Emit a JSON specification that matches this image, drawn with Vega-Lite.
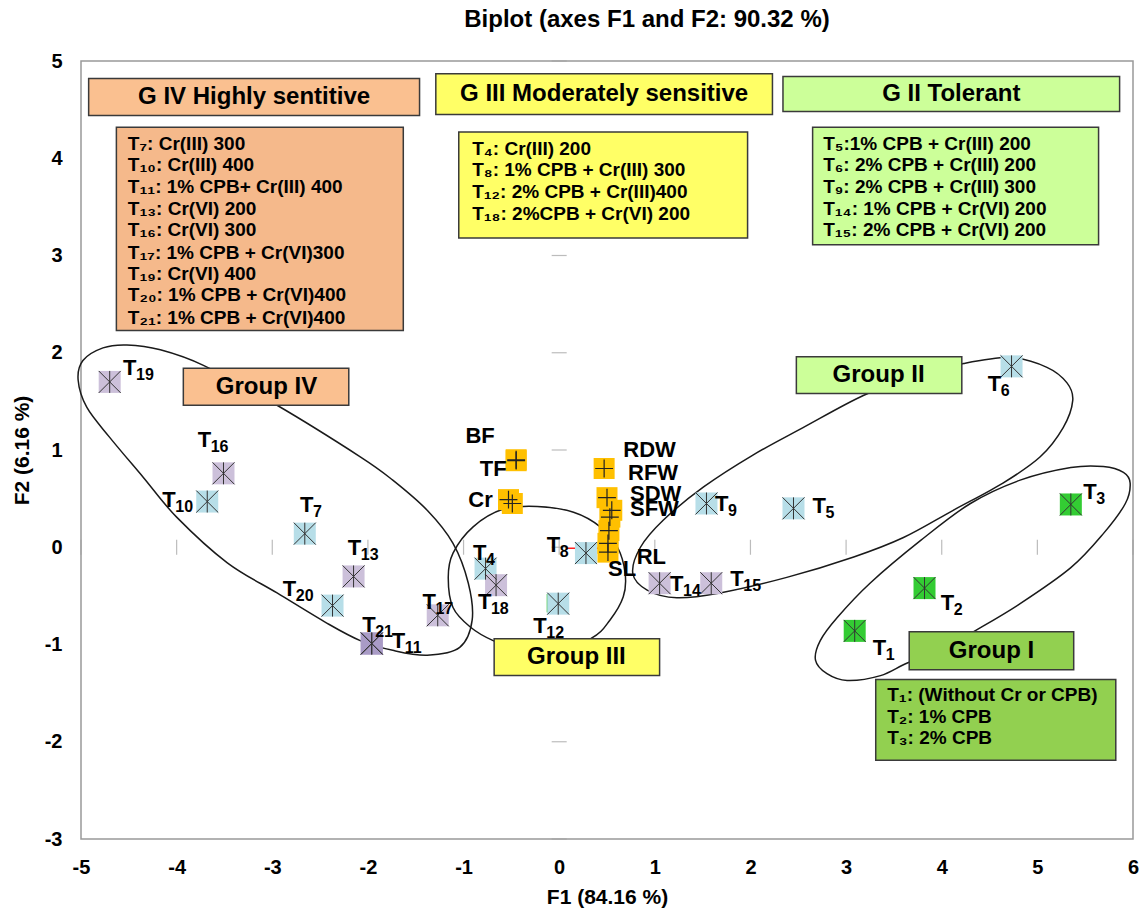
{
  "$schema": "https://vega.github.io/schema/vega-lite/v6.json",
  "width": 1052,
  "height": 778,
  "autosize": {"type": "none"},
  "padding": {"left": 81, "top": 61, "right": 8, "bottom": 74},
  "background": "white",
  "title": {"text": "Biplot (axes F1 and F2: 90.32 %)", "font": "Liberation Sans", "fontSize": 24, "fontWeight": "bold", "color": "black", "anchor": "middle", "dx": 40, "offset": 19},
  "config": {
    "view": {"stroke": "#999999", "strokeWidth": 1.5},
    "text": {"font": "Liberation Sans", "fontWeight": "bold", "color": "black"}
  },
  "datasets": {
    "xt": [{"v": -5}, {"v": -4}, {"v": -3}, {"v": -2}, {"v": -1}, {"v": 0}, {"v": 1}, {"v": 2}, {"v": 3}, {"v": 4}, {"v": 5}, {"v": 6}],
    "yt": [{"v": -3}, {"v": -2}, {"v": -1}, {"v": 0}, {"v": 1}, {"v": 2}, {"v": 3}, {"v": 4}, {"v": 5}],
    "ell": [
      {"g": "IV", "o": 1, "x": -5.03, "y": 1.72}, {"g": "IV", "o": 2, "x": -4.98, "y": 1.92}, {"g": "IV", "o": 3, "x": -4.77, "y": 2.05}, {"g": "IV", "o": 4, "x": -4.52, "y": 2.08}, {"g": "IV", "o": 5, "x": -4.17, "y": 2.03}, {"g": "IV", "o": 6, "x": -3.72, "y": 1.87}, {"g": "IV", "o": 7, "x": -2.95, "y": 1.46}, {"g": "IV", "o": 8, "x": -2.08, "y": 0.93}, {"g": "IV", "o": 9, "x": -1.74, "y": 0.69}, {"g": "IV", "o": 10, "x": -1.38, "y": 0.38}, {"g": "IV", "o": 11, "x": -1.11, "y": 0.04}, {"g": "IV", "o": 12, "x": -0.95, "y": -0.37}, {"g": "IV", "o": 13, "x": -0.91, "y": -0.75}, {"g": "IV", "o": 14, "x": -1.04, "y": -1.03}, {"g": "IV", "o": 15, "x": -1.38, "y": -1.11}, {"g": "IV", "o": 16, "x": -1.74, "y": -1.06}, {"g": "IV", "o": 17, "x": -2.08, "y": -0.96}, {"g": "IV", "o": 18, "x": -2.43, "y": -0.78}, {"g": "IV", "o": 19, "x": -2.95, "y": -0.47}, {"g": "IV", "o": 20, "x": -3.47, "y": -0.16}, {"g": "IV", "o": 21, "x": -4.0, "y": 0.31}, {"g": "IV", "o": 22, "x": -4.35, "y": 0.72}, {"g": "IV", "o": 23, "x": -4.7, "y": 1.13}, {"g": "IV", "o": 24, "x": -4.94, "y": 1.44},
      {"g": "III", "o": 1, "x": -0.23, "y": 0.42}, {"g": "III", "o": 2, "x": 0.15, "y": 0.36}, {"g": "III", "o": 3, "x": 0.43, "y": 0.21}, {"g": "III", "o": 4, "x": 0.61, "y": 0.0}, {"g": "III", "o": 5, "x": 0.69, "y": -0.27}, {"g": "III", "o": 6, "x": 0.67, "y": -0.51}, {"g": "III", "o": 7, "x": 0.53, "y": -0.75}, {"g": "III", "o": 8, "x": 0.33, "y": -0.94}, {"g": "III", "o": 9, "x": -0.19, "y": -1.14}, {"g": "III", "o": 10, "x": -0.69, "y": -0.96}, {"g": "III", "o": 11, "x": -0.93, "y": -0.82}, {"g": "III", "o": 12, "x": -1.11, "y": -0.62}, {"g": "III", "o": 13, "x": -1.16, "y": -0.31}, {"g": "III", "o": 14, "x": -1.11, "y": -0.06}, {"g": "III", "o": 15, "x": -0.9, "y": 0.21}, {"g": "III", "o": 16, "x": -0.59, "y": 0.39},
      {"g": "II", "o": 1, "x": 4.72, "y": 1.95}, {"g": "II", "o": 2, "x": 5.1, "y": 1.85}, {"g": "II", "o": 3, "x": 5.31, "y": 1.69}, {"g": "II", "o": 4, "x": 5.37, "y": 1.51}, {"g": "II", "o": 5, "x": 5.27, "y": 1.23}, {"g": "II", "o": 6, "x": 5.03, "y": 0.93}, {"g": "II", "o": 7, "x": 4.64, "y": 0.66}, {"g": "II", "o": 8, "x": 4.12, "y": 0.38}, {"g": "II", "o": 9, "x": 3.6, "y": 0.1}, {"g": "II", "o": 10, "x": 3.08, "y": -0.1}, {"g": "II", "o": 11, "x": 2.38, "y": -0.31}, {"g": "II", "o": 12, "x": 1.68, "y": -0.47}, {"g": "II", "o": 13, "x": 1.23, "y": -0.52}, {"g": "II", "o": 14, "x": 0.92, "y": -0.44}, {"g": "II", "o": 15, "x": 0.77, "y": -0.27}, {"g": "II", "o": 16, "x": 0.85, "y": 0.0}, {"g": "II", "o": 17, "x": 1.09, "y": 0.28}, {"g": "II", "o": 18, "x": 1.51, "y": 0.62}, {"g": "II", "o": 19, "x": 2.03, "y": 0.95}, {"g": "II", "o": 20, "x": 2.55, "y": 1.23}, {"g": "II", "o": 21, "x": 3.18, "y": 1.56}, {"g": "II", "o": 22, "x": 3.72, "y": 1.76}, {"g": "II", "o": 23, "x": 4.23, "y": 1.89},
      {"g": "I", "o": 1, "x": 2.68, "y": -1.16}, {"g": "I", "o": 2, "x": 2.8, "y": -1.3}, {"g": "I", "o": 3, "x": 3.01, "y": -1.37}, {"g": "I", "o": 4, "x": 3.36, "y": -1.32}, {"g": "I", "o": 5, "x": 3.64, "y": -1.19}, {"g": "I", "o": 6, "x": 3.99, "y": -1.06}, {"g": "I", "o": 7, "x": 4.33, "y": -0.87}, {"g": "I", "o": 8, "x": 4.82, "y": -0.58}, {"g": "I", "o": 9, "x": 5.35, "y": -0.21}, {"g": "I", "o": 10, "x": 5.69, "y": 0.14}, {"g": "I", "o": 11, "x": 5.92, "y": 0.45}, {"g": "I", "o": 12, "x": 5.97, "y": 0.66}, {"g": "I", "o": 13, "x": 5.9, "y": 0.77}, {"g": "I", "o": 14, "x": 5.69, "y": 0.83}, {"g": "I", "o": 15, "x": 5.35, "y": 0.82}, {"g": "I", "o": 16, "x": 4.82, "y": 0.69}, {"g": "I", "o": 17, "x": 4.3, "y": 0.45}, {"g": "I", "o": 18, "x": 3.78, "y": 0.07}, {"g": "I", "o": 19, "x": 3.25, "y": -0.37}, {"g": "I", "o": 20, "x": 2.91, "y": -0.72}, {"g": "I", "o": 21, "x": 2.73, "y": -0.96}
    ],
    "boxes": [
      {"name": "GIV head", "kind": "peach", "x": -4.92, "x2": -1.46, "y": 4.44, "y2": 4.82},
      {"name": "GIV list", "kind": "orange", "x": -4.63, "x2": -1.63, "y": 2.23, "y2": 4.32},
      {"name": "GIII head", "kind": "yellow", "x": -1.29, "x2": 2.23, "y": 4.45, "y2": 4.87},
      {"name": "GIII list", "kind": "yellow", "x": -1.05, "x2": 1.97, "y": 3.18, "y2": 4.27},
      {"name": "GII head", "kind": "lgreen", "x": 2.34, "x2": 5.86, "y": 4.48, "y2": 4.84},
      {"name": "GII list", "kind": "lgreen", "x": 2.65, "x2": 5.64, "y": 3.11, "y2": 4.32},
      {"name": "Group IV", "kind": "peach", "x": -3.93, "x2": -2.2, "y": 1.46, "y2": 1.84},
      {"name": "Group III", "kind": "yellow", "x": -0.68, "x2": 1.05, "y": -1.32, "y2": -0.94},
      {"name": "Group II", "kind": "lgreen", "x": 2.48, "x2": 4.21, "y": 1.58, "y2": 1.96},
      {"name": "Group I", "kind": "green", "x": 3.66, "x2": 5.38, "y": -1.26, "y2": -0.87},
      {"name": "GI list", "kind": "green", "x": 3.31, "x2": 5.82, "y": -2.19, "y2": -1.36}
    ],
    "heads": [
      {"text": "G IV Highly sentitive", "x": -3.19, "y": 4.63},
      {"text": "G III Moderately sensitive", "x": 0.47, "y": 4.66},
      {"text": "G II Tolerant", "x": 4.1, "y": 4.66},
      {"text": "Group IV", "x": -3.06, "y": 1.65},
      {"text": "Group III", "x": 0.18, "y": -1.13},
      {"text": "Group II", "x": 3.34, "y": 1.77},
      {"text": "Group I", "x": 4.52, "y": -1.07}
    ],
    "lists": [
      {"text": "T₇: Cr(III) 300", "x": -4.51, "y": 4.15},
      {"text": "T₁₀: Cr(III) 400", "x": -4.51, "y": 3.93},
      {"text": "T₁₁: 1% CPB+ Cr(III) 400", "x": -4.51, "y": 3.7},
      {"text": "T₁₃: Cr(VI) 200", "x": -4.51, "y": 3.48},
      {"text": "T₁₆: Cr(VI) 300", "x": -4.51, "y": 3.26},
      {"text": "T₁₇: 1% CPB + Cr(VI)300", "x": -4.51, "y": 3.03},
      {"text": "T₁₉: Cr(VI) 400", "x": -4.51, "y": 2.81},
      {"text": "T₂₀: 1% CPB + Cr(VI)400", "x": -4.51, "y": 2.59},
      {"text": "T₂₁: 1% CPB + Cr(VI)400", "x": -4.51, "y": 2.36},
      {"text": "T₄: Cr(III) 200", "x": -0.91, "y": 4.09},
      {"text": "T₈: 1% CPB + Cr(III) 300", "x": -0.91, "y": 3.88},
      {"text": "T₁₂: 2% CPB + Cr(III)400", "x": -0.91, "y": 3.65},
      {"text": "T₁₈: 2%CPB + Cr(VI) 200", "x": -0.91, "y": 3.43},
      {"text": "T₅:1% CPB + Cr(III) 200", "x": 2.76, "y": 4.15},
      {"text": "T₆: 2% CPB + Cr(III) 200", "x": 2.76, "y": 3.93},
      {"text": "T₉: 2% CPB + Cr(III) 300", "x": 2.76, "y": 3.7},
      {"text": "T₁₄: 1% CPB + Cr(VI) 200", "x": 2.76, "y": 3.48},
      {"text": "T₁₅: 2% CPB + Cr(VI) 200", "x": 2.76, "y": 3.26},
      {"text": "T₁: (Without Cr or CPB)", "x": 3.43, "y": -1.52},
      {"text": "T₂: 1% CPB", "x": 3.43, "y": -1.75},
      {"text": "T₃: 2% CPB", "x": 3.43, "y": -1.96}
    ],
    "treat": [
      {"name": "T1", "n": "1", "kind": "green", "x": 3.09, "y": -0.86, "lx": 3.28, "ly": -1.11},
      {"name": "T2", "n": "2", "kind": "green", "x": 3.82, "y": -0.42, "lx": 3.99, "ly": -0.65},
      {"name": "T3", "n": "3", "kind": "green", "x": 5.35, "y": 0.44, "lx": 5.48, "ly": 0.5},
      {"name": "T4", "n": "4", "kind": "teal", "x": -0.77, "y": -0.22, "lx": -0.9, "ly": -0.13},
      {"name": "T5", "n": "5", "kind": "teal", "x": 2.45, "y": 0.4, "lx": 2.65, "ly": 0.35},
      {"name": "T6", "n": "6", "kind": "teal", "x": 4.73, "y": 1.86, "lx": 4.48, "ly": 1.61},
      {"name": "T7", "n": "7", "kind": "teal", "x": -2.66, "y": 0.14, "lx": -2.71, "ly": 0.36},
      {"name": "T8", "n": "8", "kind": "teal", "x": 0.28, "y": -0.06, "lx": -0.13, "ly": -0.05},
      {"name": "T9", "n": "9", "kind": "teal", "x": 1.54, "y": 0.45, "lx": 1.63, "ly": 0.37},
      {"name": "T10", "n": "10", "kind": "teal", "x": -3.68, "y": 0.47, "lx": -4.15, "ly": 0.41},
      {"name": "T11", "n": "11", "kind": "dlav", "x": -1.96, "y": -0.99, "lx": -1.75, "ly": -1.04},
      {"name": "T12", "n": "12", "kind": "teal", "x": -0.01, "y": -0.58, "lx": -0.27, "ly": -0.88},
      {"name": "T13", "n": "13", "kind": "lav", "x": -2.15, "y": -0.3, "lx": -2.21, "ly": -0.08},
      {"name": "T14", "n": "14", "kind": "lav", "x": 1.05, "y": -0.37, "lx": 1.16, "ly": -0.45},
      {"name": "T15", "n": "15", "kind": "lav", "x": 1.59, "y": -0.37, "lx": 1.79, "ly": -0.4},
      {"name": "T16", "n": "16", "kind": "lav", "x": -3.51, "y": 0.76, "lx": -3.78, "ly": 1.03},
      {"name": "T17", "n": "17", "kind": "lav", "x": -1.27, "y": -0.7, "lx": -1.43, "ly": -0.63},
      {"name": "T18", "n": "18", "kind": "lav", "x": -0.66, "y": -0.39, "lx": -0.85, "ly": -0.63},
      {"name": "T19", "n": "19", "kind": "lav", "x": -4.7, "y": 1.7, "lx": -4.56, "ly": 1.77},
      {"name": "T20", "n": "20", "kind": "teal", "x": -2.37, "y": -0.6, "lx": -2.89, "ly": -0.5},
      {"name": "T21", "n": "21", "kind": "dlav", "x": -1.96, "y": -0.99, "lx": -2.06, "ly": -0.87}
    ],
    "vars": [
      {"name": "BF", "x": -0.45, "y": 0.9},
      {"name": "TF", "x": -0.45, "y": 0.89},
      {"name": "Cr", "x": -0.53, "y": 0.49},
      {"name": "Cr-b", "x": -0.49, "y": 0.45},
      {"name": "RDW", "x": 0.47, "y": 0.81},
      {"name": "RFW", "x": 0.5, "y": 0.51},
      {"name": "SDW", "x": 0.55, "y": 0.38},
      {"name": "SFW", "x": 0.53, "y": 0.31},
      {"name": "RL", "x": 0.52, "y": 0.17},
      {"name": "SL", "x": 0.51, "y": 0.04},
      {"name": "SL-b", "x": 0.51, "y": -0.05}
    ],
    "vlabels": [
      {"text": "BF", "lx": -0.98, "ly": 1.07},
      {"text": "TF", "lx": -0.83, "ly": 0.73},
      {"text": "Cr", "lx": -0.95, "ly": 0.41},
      {"text": "RDW", "lx": 0.67, "ly": 0.93},
      {"text": "RFW", "lx": 0.72, "ly": 0.69},
      {"text": "SDW", "lx": 0.74, "ly": 0.48},
      {"text": "SFW", "lx": 0.74, "ly": 0.32},
      {"text": "RL", "lx": 0.81, "ly": -0.17},
      {"text": "SL", "lx": 0.51, "ly": -0.3}
    ]
  },
  "layer": [
    {
      "mark": {"type": "rule", "color": "#a0a0a0", "strokeWidth": 1.2},
      "encoding": {
        "x": {"datum": 0, "type": "quantitative",
          "scale": {"domain": [-5, 6], "nice": false, "zero": false},
          "axis": {"title": "F1 (84.16 %)", "values": [-5, -4, -3, -2, -1, 0, 1, 2, 3, 4, 5, 6], "labelExpr": "'' + datum.value", "grid": false, "ticks": false, "tickSize": 0, "domain": false, "labelFont": "Liberation Sans", "labelFontWeight": "bold", "labelFontSize": 20, "labelColor": "black", "labelPadding": 18, "labelOverlap": false, "labelFlush": false, "titleFont": "Liberation Sans", "titleFontWeight": "bold", "titleFontSize": 21, "titleColor": "black", "titlePadding": 9}}
      }
    },
    {
      "mark": {"type": "rule", "color": "#a0a0a0", "strokeWidth": 1.2},
      "encoding": {
        "y": {"datum": 0, "type": "quantitative",
          "scale": {"domain": [-3, 5], "nice": false, "zero": false},
          "axis": {"title": "F2 (6.16 %)", "values": [-3, -2, -1, 0, 1, 2, 3, 4, 5], "labelExpr": "'' + datum.value", "grid": false, "ticks": false, "tickSize": 0, "domain": false, "labelFont": "Liberation Sans", "labelFontWeight": "bold", "labelFontSize": 20, "labelColor": "black", "labelPadding": 19, "labelOverlap": false, "labelFlush": false, "titleFont": "Liberation Sans", "titleFontWeight": "bold", "titleFontSize": 21, "titleColor": "black", "titlePadding": 12}}
      }
    },
    {
      "data": {"name": "xt"},
      "mark": {"type": "tick", "orient": "vertical", "color": "#a0a0a0", "size": 15, "thickness": 1.2},
      "encoding": {"x": {"field": "v", "type": "quantitative"}, "y": {"datum": 0, "type": "quantitative"}}
    },
    {
      "data": {"name": "yt"},
      "mark": {"type": "tick", "orient": "horizontal", "color": "#a0a0a0", "size": 15, "thickness": 1.2},
      "encoding": {"y": {"field": "v", "type": "quantitative"}, "x": {"datum": 0, "type": "quantitative"}}
    },
    {
      "data": {"name": "ell"},
      "mark": {"type": "line", "interpolate": "cardinal-closed", "color": "#1a1a1a", "strokeWidth": 1.5, "clip": false},
      "encoding": {
        "x": {"field": "x", "type": "quantitative"},
        "y": {"field": "y", "type": "quantitative"},
        "detail": {"field": "g"},
        "order": {"field": "o", "type": "quantitative"}
      }
    },
    {
      "data": {"values": [{"x": 0.07, "x2": 0.55, "y": -0.01}]},
      "mark": {"type": "rule", "color": "#ff2020", "strokeWidth": 1.5},
      "encoding": {"x": {"field": "x", "type": "quantitative"}, "x2": {"field": "x2"}, "y": {"field": "y", "type": "quantitative"}}
    },
    {
      "data": {"values": [{"x": -0.12, "y": -0.48, "y2": -0.67}]},
      "mark": {"type": "rule", "color": "#22bb22", "strokeWidth": 2},
      "encoding": {"x": {"field": "x", "type": "quantitative"}, "y": {"field": "y", "type": "quantitative"}, "y2": {"field": "y2"}}
    },
    {
      "data": {"name": "boxes"},
      "mark": {"type": "rect", "stroke": "#3a3a3a", "strokeWidth": 1.5},
      "encoding": {
        "x": {"field": "x", "type": "quantitative"}, "x2": {"field": "x2"},
        "y": {"field": "y", "type": "quantitative"}, "y2": {"field": "y2"},
        "fill": {"field": "kind", "type": "nominal", "legend": null,
          "scale": {"domain": ["peach", "orange", "yellow", "lgreen", "green"], "range": ["#FAC090", "#F5B98B", "#FFFF66", "#CCFF99", "#92D050"]}}
      }
    },
    {
      "data": {"name": "heads"},
      "mark": {"type": "text", "fontSize": 24, "align": "center", "baseline": "middle"},
      "encoding": {"x": {"field": "x", "type": "quantitative"}, "y": {"field": "y", "type": "quantitative"}, "text": {"field": "text"}}
    },
    {
      "data": {"name": "lists"},
      "mark": {"type": "text", "fontSize": 19, "align": "left", "baseline": "middle"},
      "encoding": {"x": {"field": "x", "type": "quantitative"}, "y": {"field": "y", "type": "quantitative"}, "text": {"field": "text"}}
    },
    {
      "data": {"name": "vars"},
      "mark": {"type": "point", "shape": "square", "filled": true, "size": 441, "opacity": 1, "color": "#FFC000"},
      "encoding": {"x": {"field": "x", "type": "quantitative"}, "y": {"field": "y", "type": "quantitative"}}
    },
    {
      "data": {"name": "vars"},
      "mark": {"type": "point", "shape": "M-0.85,0L0.85,0M0,-0.85L0,0.85", "filled": false, "size": 441, "opacity": 1, "color": "#222222", "strokeWidth": 1.2},
      "encoding": {"x": {"field": "x", "type": "quantitative"}, "y": {"field": "y", "type": "quantitative"}}
    },
    {
      "data": {"name": "treat"},
      "mark": {"type": "point", "shape": "square", "filled": true, "size": 484, "opacity": 1},
      "encoding": {
        "x": {"field": "x", "type": "quantitative"}, "y": {"field": "y", "type": "quantitative"},
        "fill": {"field": "kind", "type": "nominal", "legend": null,
          "scale": {"domain": ["green", "teal", "lav", "dlav"], "range": ["#33CC33", "#B7DEE8", "#CCC0DA", "#A99BC6"]}}
      }
    },
    {
      "data": {"name": "treat"},
      "mark": {"type": "point", "shape": "M-1,-1L1,1M-1,1L1,-1M0,-1L0,1", "filled": false, "size": 484, "opacity": 1, "color": "#333333", "strokeWidth": 1},
      "encoding": {"x": {"field": "x", "type": "quantitative"}, "y": {"field": "y", "type": "quantitative"}}
    },
    {
      "data": {"name": "treat"},
      "mark": {"type": "text", "fontSize": 22, "align": "left", "baseline": "alphabetic", "text": "T"},
      "encoding": {"x": {"field": "lx", "type": "quantitative"}, "y": {"field": "ly", "type": "quantitative"}}
    },
    {
      "data": {"name": "treat"},
      "mark": {"type": "text", "fontSize": 16, "align": "left", "baseline": "alphabetic", "dx": 13, "dy": 5},
      "encoding": {"x": {"field": "lx", "type": "quantitative"}, "y": {"field": "ly", "type": "quantitative"}, "text": {"field": "n"}}
    },
    {
      "data": {"name": "vlabels"},
      "mark": {"type": "text", "fontSize": 22, "align": "left", "baseline": "alphabetic"},
      "encoding": {"x": {"field": "lx", "type": "quantitative"}, "y": {"field": "ly", "type": "quantitative"}, "text": {"field": "text"}}
    }
  ],
  "resolve": {"scale": {"fill": "independent"}}
}
